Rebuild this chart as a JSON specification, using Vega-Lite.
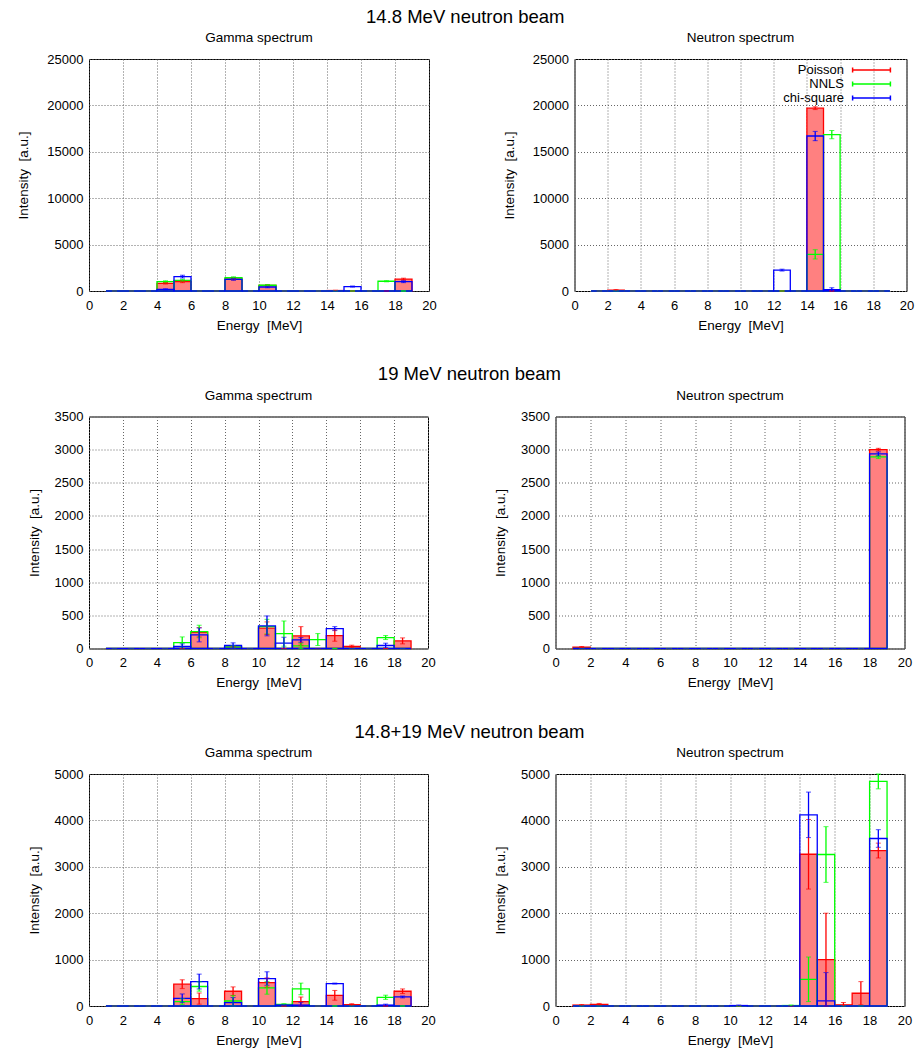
{
"$schema": "https://vega.github.io/schema/vega-lite/v6.json",
"padding": {"left": 16, "top": 7, "right": 2, "bottom": 4},
"background": "white",
"config": {
  "font": "Liberation Sans",
  "view": {"stroke": "black", "strokeWidth": 1},
  "axis": {"grid": true, "gridColor": "#666666", "gridDash": [1, 2], "gridWidth": 1, "ticks": false, "domain": false, "labelFontSize": 13, "titleFontSize": 13.5, "titleFontWeight": "normal", "labelColor": "black", "titleColor": "black", "labelOverlap": false, "labelFlush": false},
  "axisX": {"labelPadding": 8, "titlePadding": 6},
  "axisY": {"labelPadding": 6},
  "title": {"fontSize": 13.5, "fontWeight": "normal", "offset": 8.5, "color": "black"},
  "legend": {"labelFontSize": 13, "labelColor": "black"}
},
"datasets": {
"d": [
{"s":"g1","m":"Poisson","a":1,"b":2,"e":1.5,"v":0,"d":0},
{"s":"g1","m":"Poisson","a":2,"b":3,"e":2.5,"v":0,"d":0},
{"s":"g1","m":"Poisson","a":3,"b":4,"e":3.5,"v":0,"d":0},
{"s":"g1","m":"Poisson","a":4,"b":5,"e":4.5,"v":830,"d":80},
{"s":"g1","m":"Poisson","a":5,"b":6,"e":5.5,"v":1000,"d":100},
{"s":"g1","m":"Poisson","a":6,"b":7,"e":6.5,"v":0,"d":0},
{"s":"g1","m":"Poisson","a":7,"b":8,"e":7.5,"v":0,"d":0},
{"s":"g1","m":"Poisson","a":8,"b":9,"e":8.5,"v":1300,"d":100},
{"s":"g1","m":"Poisson","a":9,"b":10,"e":9.5,"v":0,"d":0},
{"s":"g1","m":"Poisson","a":10,"b":11,"e":10.5,"v":600,"d":80},
{"s":"g1","m":"Poisson","a":11,"b":12,"e":11.5,"v":0,"d":0},
{"s":"g1","m":"Poisson","a":12,"b":13,"e":12.5,"v":0,"d":0},
{"s":"g1","m":"Poisson","a":13,"b":14,"e":13.5,"v":0,"d":0},
{"s":"g1","m":"Poisson","a":14,"b":15,"e":14.5,"v":50,"d":30},
{"s":"g1","m":"Poisson","a":15,"b":16,"e":15.5,"v":0,"d":0},
{"s":"g1","m":"Poisson","a":16,"b":17,"e":16.5,"v":0,"d":0},
{"s":"g1","m":"Poisson","a":17,"b":18,"e":17.5,"v":0,"d":0},
{"s":"g1","m":"Poisson","a":18,"b":19,"e":18.5,"v":1280,"d":100},
{"s":"g1","m":"NNLS","a":1,"b":2,"e":1.5,"v":0,"d":0},
{"s":"g1","m":"NNLS","a":2,"b":3,"e":2.5,"v":0,"d":0},
{"s":"g1","m":"NNLS","a":3,"b":4,"e":3.5,"v":0,"d":0},
{"s":"g1","m":"NNLS","a":4,"b":5,"e":4.5,"v":1000,"d":100},
{"s":"g1","m":"NNLS","a":5,"b":6,"e":5.5,"v":1150,"d":100},
{"s":"g1","m":"NNLS","a":6,"b":7,"e":6.5,"v":0,"d":0},
{"s":"g1","m":"NNLS","a":7,"b":8,"e":7.5,"v":0,"d":0},
{"s":"g1","m":"NNLS","a":8,"b":9,"e":8.5,"v":1430,"d":100},
{"s":"g1","m":"NNLS","a":9,"b":10,"e":9.5,"v":0,"d":0},
{"s":"g1","m":"NNLS","a":10,"b":11,"e":10.5,"v":620,"d":80},
{"s":"g1","m":"NNLS","a":11,"b":12,"e":11.5,"v":0,"d":0},
{"s":"g1","m":"NNLS","a":12,"b":13,"e":12.5,"v":0,"d":0},
{"s":"g1","m":"NNLS","a":13,"b":14,"e":13.5,"v":0,"d":0},
{"s":"g1","m":"NNLS","a":14,"b":15,"e":14.5,"v":0,"d":0},
{"s":"g1","m":"NNLS","a":15,"b":16,"e":15.5,"v":0,"d":0},
{"s":"g1","m":"NNLS","a":16,"b":17,"e":16.5,"v":0,"d":0},
{"s":"g1","m":"NNLS","a":17,"b":18,"e":17.5,"v":1050,"d":60},
{"s":"g1","m":"NNLS","a":18,"b":19,"e":18.5,"v":0,"d":0},
{"s":"g1","m":"chi-square","a":1,"b":2,"e":1.5,"v":0,"d":0},
{"s":"g1","m":"chi-square","a":2,"b":3,"e":2.5,"v":0,"d":0},
{"s":"g1","m":"chi-square","a":3,"b":4,"e":3.5,"v":0,"d":0},
{"s":"g1","m":"chi-square","a":4,"b":5,"e":4.5,"v":180,"d":60},
{"s":"g1","m":"chi-square","a":5,"b":6,"e":5.5,"v":1550,"d":150},
{"s":"g1","m":"chi-square","a":6,"b":7,"e":6.5,"v":0,"d":0},
{"s":"g1","m":"chi-square","a":7,"b":8,"e":7.5,"v":0,"d":0},
{"s":"g1","m":"chi-square","a":8,"b":9,"e":8.5,"v":1260,"d":100},
{"s":"g1","m":"chi-square","a":9,"b":10,"e":9.5,"v":0,"d":0},
{"s":"g1","m":"chi-square","a":10,"b":11,"e":10.5,"v":430,"d":80},
{"s":"g1","m":"chi-square","a":11,"b":12,"e":11.5,"v":0,"d":0},
{"s":"g1","m":"chi-square","a":12,"b":13,"e":12.5,"v":0,"d":0},
{"s":"g1","m":"chi-square","a":13,"b":14,"e":13.5,"v":0,"d":0},
{"s":"g1","m":"chi-square","a":14,"b":15,"e":14.5,"v":0,"d":0},
{"s":"g1","m":"chi-square","a":15,"b":16,"e":15.5,"v":480,"d":60},
{"s":"g1","m":"chi-square","a":16,"b":17,"e":16.5,"v":0,"d":0},
{"s":"g1","m":"chi-square","a":17,"b":18,"e":17.5,"v":0,"d":0},
{"s":"g1","m":"chi-square","a":18,"b":19,"e":18.5,"v":1000,"d":100},
{"s":"n1","m":"Poisson","a":1,"b":2,"e":1.5,"v":0,"d":0},
{"s":"n1","m":"Poisson","a":2,"b":3,"e":2.5,"v":100,"d":50},
{"s":"n1","m":"Poisson","a":3,"b":4,"e":3.5,"v":0,"d":0},
{"s":"n1","m":"Poisson","a":4,"b":5,"e":4.5,"v":0,"d":0},
{"s":"n1","m":"Poisson","a":5,"b":6,"e":5.5,"v":0,"d":0},
{"s":"n1","m":"Poisson","a":6,"b":7,"e":6.5,"v":0,"d":0},
{"s":"n1","m":"Poisson","a":7,"b":8,"e":7.5,"v":0,"d":0},
{"s":"n1","m":"Poisson","a":8,"b":9,"e":8.5,"v":0,"d":0},
{"s":"n1","m":"Poisson","a":9,"b":10,"e":9.5,"v":0,"d":0},
{"s":"n1","m":"Poisson","a":10,"b":11,"e":10.5,"v":0,"d":0},
{"s":"n1","m":"Poisson","a":11,"b":12,"e":11.5,"v":0,"d":0},
{"s":"n1","m":"Poisson","a":12,"b":13,"e":12.5,"v":0,"d":0},
{"s":"n1","m":"Poisson","a":13,"b":14,"e":13.5,"v":0,"d":0},
{"s":"n1","m":"Poisson","a":14,"b":15,"e":14.5,"v":19700,"d":150},
{"s":"n1","m":"Poisson","a":15,"b":16,"e":15.5,"v":0,"d":0},
{"s":"n1","m":"Poisson","a":16,"b":17,"e":16.5,"v":0,"d":0},
{"s":"n1","m":"Poisson","a":17,"b":18,"e":17.5,"v":0,"d":0},
{"s":"n1","m":"Poisson","a":18,"b":19,"e":18.5,"v":0,"d":0},
{"s":"n1","m":"NNLS","a":1,"b":2,"e":1.5,"v":0,"d":0},
{"s":"n1","m":"NNLS","a":2,"b":3,"e":2.5,"v":0,"d":0},
{"s":"n1","m":"NNLS","a":3,"b":4,"e":3.5,"v":0,"d":0},
{"s":"n1","m":"NNLS","a":4,"b":5,"e":4.5,"v":0,"d":0},
{"s":"n1","m":"NNLS","a":5,"b":6,"e":5.5,"v":0,"d":0},
{"s":"n1","m":"NNLS","a":6,"b":7,"e":6.5,"v":0,"d":0},
{"s":"n1","m":"NNLS","a":7,"b":8,"e":7.5,"v":0,"d":0},
{"s":"n1","m":"NNLS","a":8,"b":9,"e":8.5,"v":0,"d":0},
{"s":"n1","m":"NNLS","a":9,"b":10,"e":9.5,"v":0,"d":0},
{"s":"n1","m":"NNLS","a":10,"b":11,"e":10.5,"v":0,"d":0},
{"s":"n1","m":"NNLS","a":11,"b":12,"e":11.5,"v":0,"d":0},
{"s":"n1","m":"NNLS","a":12,"b":13,"e":12.5,"v":0,"d":0},
{"s":"n1","m":"NNLS","a":13,"b":14,"e":13.5,"v":0,"d":0},
{"s":"n1","m":"NNLS","a":14,"b":15,"e":14.5,"v":3950,"d":500},
{"s":"n1","m":"NNLS","a":15,"b":16,"e":15.5,"v":16850,"d":450},
{"s":"n1","m":"NNLS","a":16,"b":17,"e":16.5,"v":0,"d":0},
{"s":"n1","m":"NNLS","a":17,"b":18,"e":17.5,"v":0,"d":0},
{"s":"n1","m":"NNLS","a":18,"b":19,"e":18.5,"v":0,"d":0},
{"s":"n1","m":"chi-square","a":1,"b":2,"e":1.5,"v":0,"d":0},
{"s":"n1","m":"chi-square","a":2,"b":3,"e":2.5,"v":0,"d":0},
{"s":"n1","m":"chi-square","a":3,"b":4,"e":3.5,"v":0,"d":0},
{"s":"n1","m":"chi-square","a":4,"b":5,"e":4.5,"v":0,"d":0},
{"s":"n1","m":"chi-square","a":5,"b":6,"e":5.5,"v":0,"d":0},
{"s":"n1","m":"chi-square","a":6,"b":7,"e":6.5,"v":0,"d":0},
{"s":"n1","m":"chi-square","a":7,"b":8,"e":7.5,"v":0,"d":0},
{"s":"n1","m":"chi-square","a":8,"b":9,"e":8.5,"v":0,"d":0},
{"s":"n1","m":"chi-square","a":9,"b":10,"e":9.5,"v":0,"d":0},
{"s":"n1","m":"chi-square","a":10,"b":11,"e":10.5,"v":0,"d":0},
{"s":"n1","m":"chi-square","a":11,"b":12,"e":11.5,"v":0,"d":0},
{"s":"n1","m":"chi-square","a":12,"b":13,"e":12.5,"v":2250,"d":100},
{"s":"n1","m":"chi-square","a":13,"b":14,"e":13.5,"v":0,"d":0},
{"s":"n1","m":"chi-square","a":14,"b":15,"e":14.5,"v":16700,"d":500},
{"s":"n1","m":"chi-square","a":15,"b":16,"e":15.5,"v":150,"d":200},
{"s":"n1","m":"chi-square","a":16,"b":17,"e":16.5,"v":0,"d":0},
{"s":"n1","m":"chi-square","a":17,"b":18,"e":17.5,"v":0,"d":0},
{"s":"n1","m":"chi-square","a":18,"b":19,"e":18.5,"v":0,"d":0},
{"s":"g2","m":"Poisson","a":1,"b":2,"e":1.5,"v":0,"d":0},
{"s":"g2","m":"Poisson","a":2,"b":3,"e":2.5,"v":0,"d":0},
{"s":"g2","m":"Poisson","a":3,"b":4,"e":3.5,"v":0,"d":0},
{"s":"g2","m":"Poisson","a":4,"b":5,"e":4.5,"v":0,"d":0},
{"s":"g2","m":"Poisson","a":5,"b":6,"e":5.5,"v":0,"d":0},
{"s":"g2","m":"Poisson","a":6,"b":7,"e":6.5,"v":245,"d":70},
{"s":"g2","m":"Poisson","a":7,"b":8,"e":7.5,"v":0,"d":0},
{"s":"g2","m":"Poisson","a":8,"b":9,"e":8.5,"v":20,"d":10},
{"s":"g2","m":"Poisson","a":9,"b":10,"e":9.5,"v":0,"d":0},
{"s":"g2","m":"Poisson","a":10,"b":11,"e":10.5,"v":306,"d":95},
{"s":"g2","m":"Poisson","a":11,"b":12,"e":11.5,"v":0,"d":0},
{"s":"g2","m":"Poisson","a":12,"b":13,"e":12.5,"v":190,"d":140},
{"s":"g2","m":"Poisson","a":13,"b":14,"e":13.5,"v":0,"d":0},
{"s":"g2","m":"Poisson","a":14,"b":15,"e":14.5,"v":195,"d":85},
{"s":"g2","m":"Poisson","a":15,"b":16,"e":15.5,"v":30,"d":20},
{"s":"g2","m":"Poisson","a":16,"b":17,"e":16.5,"v":0,"d":0},
{"s":"g2","m":"Poisson","a":17,"b":18,"e":17.5,"v":0,"d":0},
{"s":"g2","m":"Poisson","a":18,"b":19,"e":18.5,"v":115,"d":45},
{"s":"g2","m":"NNLS","a":1,"b":2,"e":1.5,"v":0,"d":0},
{"s":"g2","m":"NNLS","a":2,"b":3,"e":2.5,"v":0,"d":0},
{"s":"g2","m":"NNLS","a":3,"b":4,"e":3.5,"v":0,"d":0},
{"s":"g2","m":"NNLS","a":4,"b":5,"e":4.5,"v":0,"d":0},
{"s":"g2","m":"NNLS","a":5,"b":6,"e":5.5,"v":90,"d":85},
{"s":"g2","m":"NNLS","a":6,"b":7,"e":6.5,"v":256,"d":95},
{"s":"g2","m":"NNLS","a":7,"b":8,"e":7.5,"v":0,"d":0},
{"s":"g2","m":"NNLS","a":8,"b":9,"e":8.5,"v":25,"d":15},
{"s":"g2","m":"NNLS","a":9,"b":10,"e":9.5,"v":0,"d":0},
{"s":"g2","m":"NNLS","a":10,"b":11,"e":10.5,"v":330,"d":110},
{"s":"g2","m":"NNLS","a":11,"b":12,"e":11.5,"v":225,"d":190},
{"s":"g2","m":"NNLS","a":12,"b":13,"e":12.5,"v":40,"d":40},
{"s":"g2","m":"NNLS","a":13,"b":14,"e":13.5,"v":135,"d":90},
{"s":"g2","m":"NNLS","a":14,"b":15,"e":14.5,"v":0,"d":0},
{"s":"g2","m":"NNLS","a":15,"b":16,"e":15.5,"v":0,"d":0},
{"s":"g2","m":"NNLS","a":16,"b":17,"e":16.5,"v":0,"d":0},
{"s":"g2","m":"NNLS","a":17,"b":18,"e":17.5,"v":165,"d":30},
{"s":"g2","m":"NNLS","a":18,"b":19,"e":18.5,"v":0,"d":0},
{"s":"g2","m":"chi-square","a":1,"b":2,"e":1.5,"v":0,"d":0},
{"s":"g2","m":"chi-square","a":2,"b":3,"e":2.5,"v":0,"d":0},
{"s":"g2","m":"chi-square","a":3,"b":4,"e":3.5,"v":0,"d":0},
{"s":"g2","m":"chi-square","a":4,"b":5,"e":4.5,"v":0,"d":0},
{"s":"g2","m":"chi-square","a":5,"b":6,"e":5.5,"v":30,"d":40},
{"s":"g2","m":"chi-square","a":6,"b":7,"e":6.5,"v":205,"d":105},
{"s":"g2","m":"chi-square","a":7,"b":8,"e":7.5,"v":0,"d":0},
{"s":"g2","m":"chi-square","a":8,"b":9,"e":8.5,"v":45,"d":40},
{"s":"g2","m":"chi-square","a":9,"b":10,"e":9.5,"v":0,"d":0},
{"s":"g2","m":"chi-square","a":10,"b":11,"e":10.5,"v":341,"d":150},
{"s":"g2","m":"chi-square","a":11,"b":12,"e":11.5,"v":80,"d":90},
{"s":"g2","m":"chi-square","a":12,"b":13,"e":12.5,"v":130,"d":35},
{"s":"g2","m":"chi-square","a":13,"b":14,"e":13.5,"v":0,"d":0},
{"s":"g2","m":"chi-square","a":14,"b":15,"e":14.5,"v":300,"d":30},
{"s":"g2","m":"chi-square","a":15,"b":16,"e":15.5,"v":0,"d":0},
{"s":"g2","m":"chi-square","a":16,"b":17,"e":16.5,"v":0,"d":0},
{"s":"g2","m":"chi-square","a":17,"b":18,"e":17.5,"v":45,"d":35},
{"s":"g2","m":"chi-square","a":18,"b":19,"e":18.5,"v":0,"d":0},
{"s":"n2","m":"Poisson","a":1,"b":2,"e":1.5,"v":20,"d":10},
{"s":"n2","m":"Poisson","a":2,"b":3,"e":2.5,"v":0,"d":0},
{"s":"n2","m":"Poisson","a":3,"b":4,"e":3.5,"v":0,"d":0},
{"s":"n2","m":"Poisson","a":4,"b":5,"e":4.5,"v":0,"d":0},
{"s":"n2","m":"Poisson","a":5,"b":6,"e":5.5,"v":0,"d":0},
{"s":"n2","m":"Poisson","a":6,"b":7,"e":6.5,"v":0,"d":0},
{"s":"n2","m":"Poisson","a":7,"b":8,"e":7.5,"v":0,"d":0},
{"s":"n2","m":"Poisson","a":8,"b":9,"e":8.5,"v":0,"d":0},
{"s":"n2","m":"Poisson","a":9,"b":10,"e":9.5,"v":0,"d":0},
{"s":"n2","m":"Poisson","a":10,"b":11,"e":10.5,"v":0,"d":0},
{"s":"n2","m":"Poisson","a":11,"b":12,"e":11.5,"v":0,"d":0},
{"s":"n2","m":"Poisson","a":12,"b":13,"e":12.5,"v":0,"d":0},
{"s":"n2","m":"Poisson","a":13,"b":14,"e":13.5,"v":0,"d":0},
{"s":"n2","m":"Poisson","a":14,"b":15,"e":14.5,"v":0,"d":0},
{"s":"n2","m":"Poisson","a":15,"b":16,"e":15.5,"v":0,"d":0},
{"s":"n2","m":"Poisson","a":16,"b":17,"e":16.5,"v":0,"d":0},
{"s":"n2","m":"Poisson","a":17,"b":18,"e":17.5,"v":0,"d":0},
{"s":"n2","m":"Poisson","a":18,"b":19,"e":18.5,"v":3000,"d":20},
{"s":"n2","m":"NNLS","a":1,"b":2,"e":1.5,"v":0,"d":0},
{"s":"n2","m":"NNLS","a":2,"b":3,"e":2.5,"v":0,"d":0},
{"s":"n2","m":"NNLS","a":3,"b":4,"e":3.5,"v":0,"d":0},
{"s":"n2","m":"NNLS","a":4,"b":5,"e":4.5,"v":0,"d":0},
{"s":"n2","m":"NNLS","a":5,"b":6,"e":5.5,"v":0,"d":0},
{"s":"n2","m":"NNLS","a":6,"b":7,"e":6.5,"v":0,"d":0},
{"s":"n2","m":"NNLS","a":7,"b":8,"e":7.5,"v":0,"d":0},
{"s":"n2","m":"NNLS","a":8,"b":9,"e":8.5,"v":0,"d":0},
{"s":"n2","m":"NNLS","a":9,"b":10,"e":9.5,"v":0,"d":0},
{"s":"n2","m":"NNLS","a":10,"b":11,"e":10.5,"v":0,"d":0},
{"s":"n2","m":"NNLS","a":11,"b":12,"e":11.5,"v":0,"d":0},
{"s":"n2","m":"NNLS","a":12,"b":13,"e":12.5,"v":0,"d":0},
{"s":"n2","m":"NNLS","a":13,"b":14,"e":13.5,"v":0,"d":0},
{"s":"n2","m":"NNLS","a":14,"b":15,"e":14.5,"v":0,"d":0},
{"s":"n2","m":"NNLS","a":15,"b":16,"e":15.5,"v":0,"d":0},
{"s":"n2","m":"NNLS","a":16,"b":17,"e":16.5,"v":0,"d":0},
{"s":"n2","m":"NNLS","a":17,"b":18,"e":17.5,"v":0,"d":0},
{"s":"n2","m":"NNLS","a":18,"b":19,"e":18.5,"v":2890,"d":25},
{"s":"n2","m":"chi-square","a":1,"b":2,"e":1.5,"v":0,"d":0},
{"s":"n2","m":"chi-square","a":2,"b":3,"e":2.5,"v":0,"d":0},
{"s":"n2","m":"chi-square","a":3,"b":4,"e":3.5,"v":0,"d":0},
{"s":"n2","m":"chi-square","a":4,"b":5,"e":4.5,"v":0,"d":0},
{"s":"n2","m":"chi-square","a":5,"b":6,"e":5.5,"v":0,"d":0},
{"s":"n2","m":"chi-square","a":6,"b":7,"e":6.5,"v":0,"d":0},
{"s":"n2","m":"chi-square","a":7,"b":8,"e":7.5,"v":0,"d":0},
{"s":"n2","m":"chi-square","a":8,"b":9,"e":8.5,"v":0,"d":0},
{"s":"n2","m":"chi-square","a":9,"b":10,"e":9.5,"v":0,"d":0},
{"s":"n2","m":"chi-square","a":10,"b":11,"e":10.5,"v":0,"d":0},
{"s":"n2","m":"chi-square","a":11,"b":12,"e":11.5,"v":0,"d":0},
{"s":"n2","m":"chi-square","a":12,"b":13,"e":12.5,"v":0,"d":0},
{"s":"n2","m":"chi-square","a":13,"b":14,"e":13.5,"v":0,"d":0},
{"s":"n2","m":"chi-square","a":14,"b":15,"e":14.5,"v":0,"d":0},
{"s":"n2","m":"chi-square","a":15,"b":16,"e":15.5,"v":0,"d":0},
{"s":"n2","m":"chi-square","a":16,"b":17,"e":16.5,"v":0,"d":0},
{"s":"n2","m":"chi-square","a":17,"b":18,"e":17.5,"v":0,"d":0},
{"s":"n2","m":"chi-square","a":18,"b":19,"e":18.5,"v":2935,"d":30},
{"s":"g3","m":"Poisson","a":1,"b":2,"e":1.5,"v":0,"d":0},
{"s":"g3","m":"Poisson","a":2,"b":3,"e":2.5,"v":0,"d":0},
{"s":"g3","m":"Poisson","a":3,"b":4,"e":3.5,"v":0,"d":0},
{"s":"g3","m":"Poisson","a":4,"b":5,"e":4.5,"v":0,"d":0},
{"s":"g3","m":"Poisson","a":5,"b":6,"e":5.5,"v":470,"d":95},
{"s":"g3","m":"Poisson","a":6,"b":7,"e":6.5,"v":160,"d":120},
{"s":"g3","m":"Poisson","a":7,"b":8,"e":7.5,"v":0,"d":0},
{"s":"g3","m":"Poisson","a":8,"b":9,"e":8.5,"v":318,"d":94},
{"s":"g3","m":"Poisson","a":9,"b":10,"e":9.5,"v":0,"d":0},
{"s":"g3","m":"Poisson","a":10,"b":11,"e":10.5,"v":505,"d":100},
{"s":"g3","m":"Poisson","a":11,"b":12,"e":11.5,"v":0,"d":0},
{"s":"g3","m":"Poisson","a":12,"b":13,"e":12.5,"v":94,"d":100},
{"s":"g3","m":"Poisson","a":13,"b":14,"e":13.5,"v":0,"d":0},
{"s":"g3","m":"Poisson","a":14,"b":15,"e":14.5,"v":230,"d":105},
{"s":"g3","m":"Poisson","a":15,"b":16,"e":15.5,"v":30,"d":20},
{"s":"g3","m":"Poisson","a":16,"b":17,"e":16.5,"v":0,"d":0},
{"s":"g3","m":"Poisson","a":17,"b":18,"e":17.5,"v":0,"d":0},
{"s":"g3","m":"Poisson","a":18,"b":19,"e":18.5,"v":318,"d":50},
{"s":"g3","m":"NNLS","a":1,"b":2,"e":1.5,"v":0,"d":0},
{"s":"g3","m":"NNLS","a":2,"b":3,"e":2.5,"v":0,"d":0},
{"s":"g3","m":"NNLS","a":3,"b":4,"e":3.5,"v":0,"d":0},
{"s":"g3","m":"NNLS","a":4,"b":5,"e":4.5,"v":0,"d":0},
{"s":"g3","m":"NNLS","a":5,"b":6,"e":5.5,"v":95,"d":60},
{"s":"g3","m":"NNLS","a":6,"b":7,"e":6.5,"v":420,"d":100},
{"s":"g3","m":"NNLS","a":7,"b":8,"e":7.5,"v":0,"d":0},
{"s":"g3","m":"NNLS","a":8,"b":9,"e":8.5,"v":108,"d":120},
{"s":"g3","m":"NNLS","a":9,"b":10,"e":9.5,"v":0,"d":0},
{"s":"g3","m":"NNLS","a":10,"b":11,"e":10.5,"v":390,"d":135},
{"s":"g3","m":"NNLS","a":11,"b":12,"e":11.5,"v":35,"d":15},
{"s":"g3","m":"NNLS","a":12,"b":13,"e":12.5,"v":368,"d":125},
{"s":"g3","m":"NNLS","a":13,"b":14,"e":13.5,"v":0,"d":0},
{"s":"g3","m":"NNLS","a":14,"b":15,"e":14.5,"v":0,"d":0},
{"s":"g3","m":"NNLS","a":15,"b":16,"e":15.5,"v":0,"d":0},
{"s":"g3","m":"NNLS","a":16,"b":17,"e":16.5,"v":0,"d":0},
{"s":"g3","m":"NNLS","a":17,"b":18,"e":17.5,"v":188,"d":45},
{"s":"g3","m":"NNLS","a":18,"b":19,"e":18.5,"v":0,"d":0},
{"s":"g3","m":"chi-square","a":1,"b":2,"e":1.5,"v":0,"d":0},
{"s":"g3","m":"chi-square","a":2,"b":3,"e":2.5,"v":0,"d":0},
{"s":"g3","m":"chi-square","a":3,"b":4,"e":3.5,"v":0,"d":0},
{"s":"g3","m":"chi-square","a":4,"b":5,"e":4.5,"v":0,"d":0},
{"s":"g3","m":"chi-square","a":5,"b":6,"e":5.5,"v":166,"d":94},
{"s":"g3","m":"chi-square","a":6,"b":7,"e":6.5,"v":527,"d":160},
{"s":"g3","m":"chi-square","a":7,"b":8,"e":7.5,"v":0,"d":0},
{"s":"g3","m":"chi-square","a":8,"b":9,"e":8.5,"v":72,"d":110},
{"s":"g3","m":"chi-square","a":9,"b":10,"e":9.5,"v":0,"d":0},
{"s":"g3","m":"chi-square","a":10,"b":11,"e":10.5,"v":592,"d":145},
{"s":"g3","m":"chi-square","a":11,"b":12,"e":11.5,"v":20,"d":10},
{"s":"g3","m":"chi-square","a":12,"b":13,"e":12.5,"v":20,"d":60},
{"s":"g3","m":"chi-square","a":13,"b":14,"e":13.5,"v":0,"d":0},
{"s":"g3","m":"chi-square","a":14,"b":15,"e":14.5,"v":484,"d":10},
{"s":"g3","m":"chi-square","a":15,"b":16,"e":15.5,"v":0,"d":0},
{"s":"g3","m":"chi-square","a":16,"b":17,"e":16.5,"v":0,"d":0},
{"s":"g3","m":"chi-square","a":17,"b":18,"e":17.5,"v":20,"d":20},
{"s":"g3","m":"chi-square","a":18,"b":19,"e":18.5,"v":195,"d":20},
{"s":"n3","m":"Poisson","a":1,"b":2,"e":1.5,"v":20,"d":10},
{"s":"n3","m":"Poisson","a":2,"b":3,"e":2.5,"v":35,"d":20},
{"s":"n3","m":"Poisson","a":3,"b":4,"e":3.5,"v":0,"d":0},
{"s":"n3","m":"Poisson","a":4,"b":5,"e":4.5,"v":0,"d":0},
{"s":"n3","m":"Poisson","a":5,"b":6,"e":5.5,"v":0,"d":0},
{"s":"n3","m":"Poisson","a":6,"b":7,"e":6.5,"v":0,"d":0},
{"s":"n3","m":"Poisson","a":7,"b":8,"e":7.5,"v":0,"d":0},
{"s":"n3","m":"Poisson","a":8,"b":9,"e":8.5,"v":0,"d":0},
{"s":"n3","m":"Poisson","a":9,"b":10,"e":9.5,"v":0,"d":0},
{"s":"n3","m":"Poisson","a":10,"b":11,"e":10.5,"v":0,"d":0},
{"s":"n3","m":"Poisson","a":11,"b":12,"e":11.5,"v":0,"d":0},
{"s":"n3","m":"Poisson","a":12,"b":13,"e":12.5,"v":0,"d":0},
{"s":"n3","m":"Poisson","a":13,"b":14,"e":13.5,"v":0,"d":0},
{"s":"n3","m":"Poisson","a":14,"b":15,"e":14.5,"v":3270,"d":750},
{"s":"n3","m":"Poisson","a":15,"b":16,"e":15.5,"v":1000,"d":1000},
{"s":"n3","m":"Poisson","a":16,"b":17,"e":16.5,"v":25,"d":50},
{"s":"n3","m":"Poisson","a":17,"b":18,"e":17.5,"v":275,"d":250},
{"s":"n3","m":"Poisson","a":18,"b":19,"e":18.5,"v":3350,"d":160},
{"s":"n3","m":"NNLS","a":1,"b":2,"e":1.5,"v":0,"d":0},
{"s":"n3","m":"NNLS","a":2,"b":3,"e":2.5,"v":0,"d":0},
{"s":"n3","m":"NNLS","a":3,"b":4,"e":3.5,"v":0,"d":0},
{"s":"n3","m":"NNLS","a":4,"b":5,"e":4.5,"v":0,"d":0},
{"s":"n3","m":"NNLS","a":5,"b":6,"e":5.5,"v":0,"d":0},
{"s":"n3","m":"NNLS","a":6,"b":7,"e":6.5,"v":0,"d":0},
{"s":"n3","m":"NNLS","a":7,"b":8,"e":7.5,"v":0,"d":0},
{"s":"n3","m":"NNLS","a":8,"b":9,"e":8.5,"v":0,"d":0},
{"s":"n3","m":"NNLS","a":9,"b":10,"e":9.5,"v":0,"d":0},
{"s":"n3","m":"NNLS","a":10,"b":11,"e":10.5,"v":0,"d":0},
{"s":"n3","m":"NNLS","a":11,"b":12,"e":11.5,"v":0,"d":0},
{"s":"n3","m":"NNLS","a":12,"b":13,"e":12.5,"v":0,"d":0},
{"s":"n3","m":"NNLS","a":13,"b":14,"e":13.5,"v":10,"d":10},
{"s":"n3","m":"NNLS","a":14,"b":15,"e":14.5,"v":575,"d":480},
{"s":"n3","m":"NNLS","a":15,"b":16,"e":15.5,"v":3265,"d":600},
{"s":"n3","m":"NNLS","a":16,"b":17,"e":16.5,"v":0,"d":0},
{"s":"n3","m":"NNLS","a":17,"b":18,"e":17.5,"v":0,"d":0},
{"s":"n3","m":"NNLS","a":18,"b":19,"e":18.5,"v":4840,"d":160},
{"s":"n3","m":"chi-square","a":1,"b":2,"e":1.5,"v":0,"d":0},
{"s":"n3","m":"chi-square","a":2,"b":3,"e":2.5,"v":0,"d":0},
{"s":"n3","m":"chi-square","a":3,"b":4,"e":3.5,"v":0,"d":0},
{"s":"n3","m":"chi-square","a":4,"b":5,"e":4.5,"v":0,"d":0},
{"s":"n3","m":"chi-square","a":5,"b":6,"e":5.5,"v":0,"d":0},
{"s":"n3","m":"chi-square","a":6,"b":7,"e":6.5,"v":0,"d":0},
{"s":"n3","m":"chi-square","a":7,"b":8,"e":7.5,"v":0,"d":0},
{"s":"n3","m":"chi-square","a":8,"b":9,"e":8.5,"v":0,"d":0},
{"s":"n3","m":"chi-square","a":9,"b":10,"e":9.5,"v":0,"d":0},
{"s":"n3","m":"chi-square","a":10,"b":11,"e":10.5,"v":10,"d":10},
{"s":"n3","m":"chi-square","a":11,"b":12,"e":11.5,"v":0,"d":0},
{"s":"n3","m":"chi-square","a":12,"b":13,"e":12.5,"v":0,"d":0},
{"s":"n3","m":"chi-square","a":13,"b":14,"e":13.5,"v":0,"d":0},
{"s":"n3","m":"chi-square","a":14,"b":15,"e":14.5,"v":4120,"d":490},
{"s":"n3","m":"chi-square","a":15,"b":16,"e":15.5,"v":110,"d":610},
{"s":"n3","m":"chi-square","a":16,"b":17,"e":16.5,"v":0,"d":0},
{"s":"n3","m":"chi-square","a":17,"b":18,"e":17.5,"v":0,"d":0},
{"s":"n3","m":"chi-square","a":18,"b":19,"e":18.5,"v":3610,"d":190}
]
},
"data": {"name": "d"},
"spacing": 32.5,
"resolve": {"scale": {"stroke": "independent", "fill": "independent", "color": "independent"}, "legend": {"stroke": "independent", "fill": "independent", "color": "independent"}},
"vconcat": [
{
 "title": {"text": "14.8 MeV neutron beam", "fontSize": 18.5, "anchor": "middle", "offset": 4.5},
 "spacing": 64.5,
 "resolve": {"scale": {"stroke": "independent", "fill": "independent", "color": "independent"}, "legend": {"stroke": "independent", "fill": "independent", "color": "independent"}},
 "hconcat": [
  {"width": 340, "height": 232, "title": "Gamma spectrum",
   "transform": [{"filter": {"field": "s", "equal": "g1"}}],
   "layer": [
    {"mark": {"type": "bar", "strokeWidth": 1.3},
     "encoding": {
      "x": {"field": "a", "type": "quantitative", "scale": {"domain": [0, 20], "nice": false}, "axis": {"values": [0,2,4,6,8,10,12,14,16,18,20]}, "title": "Energy\u00a0\u00a0[MeV]"},
      "x2": {"field": "b"},
      "y": {"field": "v", "type": "quantitative", "stack": null, "scale": {"domain": [0, 25000], "nice": false, "clamp": true}, "axis": {"values": [0,5000,10000,15000,20000,25000], "format": "d", "titlePadding": 16}, "title": "Intensity\u00a0\u00a0[a.u.]"},
      "y2": {"datum": 0},
      "stroke": {"field": "m", "type": "nominal", "scale": {"domain": ["Poisson","NNLS","chi-square"], "range": ["#ff0000","#00ff00","#0000ff"]}, "legend": null},
      "fill": {"field": "m", "type": "nominal", "scale": {"domain": ["Poisson","NNLS","chi-square"], "range": ["#ff8080","transparent","transparent"]}, "legend": null}
     }},
    {"mark": {"type": "errorbar", "ticks": {"size": 5}, "rule": {"strokeWidth": 1.3}},
     "encoding": {
      "x": {"field": "e", "type": "quantitative", "scale": {"domain": [0, 20], "nice": false}, "axis": {"values": [0,2,4,6,8,10,12,14,16,18,20]}, "title": "Energy\u00a0\u00a0[MeV]"},
      "y": {"field": "v", "type": "quantitative", "scale": {"domain": [0, 25000], "nice": false, "clamp": true}, "axis": {"values": [0,5000,10000,15000,20000,25000], "format": "d", "titlePadding": 16}, "title": "Intensity\u00a0\u00a0[a.u.]"},
      "yError": {"field": "d"},
      "color": {"field": "m", "type": "nominal", "scale": {"domain": ["Poisson","NNLS","chi-square"], "range": ["#ff0000","#00ff00","#0000ff"]}, "legend": null}
     }}
   ]},
  {"width": 332, "height": 232, "title": "Neutron spectrum",
   "transform": [{"filter": {"field": "s", "equal": "n1"}}],
   "layer": [
    {"mark": {"type": "bar", "strokeWidth": 1.3},
     "encoding": {
      "x": {"field": "a", "type": "quantitative", "scale": {"domain": [0, 20], "nice": false}, "axis": {"values": [0,2,4,6,8,10,12,14,16,18,20]}, "title": "Energy\u00a0\u00a0[MeV]"},
      "x2": {"field": "b"},
      "y": {"field": "v", "type": "quantitative", "stack": null, "scale": {"domain": [0, 25000], "nice": false, "clamp": true}, "axis": {"values": [0,5000,10000,15000,20000,25000], "format": "d", "titlePadding": 16}, "title": "Intensity\u00a0\u00a0[a.u.]"},
      "y2": {"datum": 0},
      "stroke": {"field": "m", "type": "nominal", "scale": {"domain": ["Poisson","NNLS","chi-square"], "range": ["#ff0000","#00ff00","#0000ff"]},
        "legend": {"orient": "none", "legendX": 290, "legendY": 4, "title": null, "symbolType": "M-3.15,-0.4L-3.15,0.4M-3.15,0L3.15,0M3.15,-0.4L3.15,0.4", "symbolSize": 144, "symbolStrokeWidth": 1.5, "labelAlign": "right", "labelOffset": -34.5, "labelFontSize": 13, "rowPadding": 0, "padding": 0}},
      "fill": {"field": "m", "type": "nominal", "scale": {"domain": ["Poisson","NNLS","chi-square"], "range": ["#ff8080","transparent","transparent"]},
        "legend": {"orient": "none", "legendX": 290, "legendY": 4, "title": null, "symbolType": "M-3.15,-0.4L-3.15,0.4M-3.15,0L3.15,0M3.15,-0.4L3.15,0.4", "symbolSize": 144, "symbolStrokeWidth": 1.5, "labelAlign": "right", "labelOffset": -34.5, "labelFontSize": 13, "rowPadding": 0, "padding": 0}}
     }},
    {"mark": {"type": "errorbar", "ticks": {"size": 5}, "rule": {"strokeWidth": 1.3}},
     "encoding": {
      "x": {"field": "e", "type": "quantitative", "scale": {"domain": [0, 20], "nice": false}, "axis": {"values": [0,2,4,6,8,10,12,14,16,18,20]}, "title": "Energy\u00a0\u00a0[MeV]"},
      "y": {"field": "v", "type": "quantitative", "scale": {"domain": [0, 25000], "nice": false, "clamp": true}, "axis": {"values": [0,5000,10000,15000,20000,25000], "format": "d", "titlePadding": 16}, "title": "Intensity\u00a0\u00a0[a.u.]"},
      "yError": {"field": "d"},
      "color": {"field": "m", "type": "nominal", "scale": {"domain": ["Poisson","NNLS","chi-square"], "range": ["#ff0000","#00ff00","#0000ff"]},
        "legend": {"orient": "none", "legendX": 290, "legendY": 4, "title": null, "symbolType": "M-3.15,-0.4L-3.15,0.4M-3.15,0L3.15,0M3.15,-0.4L3.15,0.4", "symbolSize": 144, "symbolStrokeWidth": 1.5, "labelAlign": "right", "labelOffset": -34.5, "labelFontSize": 13, "rowPadding": 0, "padding": 0}}
     }}
   ]}
 ]
},
{
 "title": {"text": "19 MeV neutron beam", "fontSize": 18.5, "anchor": "middle", "offset": 4.5},
 "spacing": 56.5,
 "resolve": {"scale": {"stroke": "independent", "fill": "independent", "color": "independent"}, "legend": {"stroke": "independent", "fill": "independent", "color": "independent"}},
 "hconcat": [
  {"width": 339, "height": 232, "title": "Gamma spectrum",
   "transform": [{"filter": {"field": "s", "equal": "g2"}}],
   "layer": [
    {"mark": {"type": "bar", "strokeWidth": 1.3},
     "encoding": {
      "x": {"field": "a", "type": "quantitative", "scale": {"domain": [0, 20], "nice": false}, "axis": {"values": [0,2,4,6,8,10,12,14,16,18,20]}, "title": "Energy\u00a0\u00a0[MeV]"},
      "x2": {"field": "b"},
      "y": {"field": "v", "type": "quantitative", "stack": null, "scale": {"domain": [0, 3500], "nice": false, "clamp": true}, "axis": {"values": [0,500,1000,1500,2000,2500,3000,3500], "format": "d", "titlePadding": 13}, "title": "Intensity\u00a0\u00a0[a.u.]"},
      "y2": {"datum": 0},
      "stroke": {"field": "m", "type": "nominal", "scale": {"domain": ["Poisson","NNLS","chi-square"], "range": ["#ff0000","#00ff00","#0000ff"]}, "legend": null},
      "fill": {"field": "m", "type": "nominal", "scale": {"domain": ["Poisson","NNLS","chi-square"], "range": ["#ff8080","transparent","transparent"]}, "legend": null}
     }},
    {"mark": {"type": "errorbar", "ticks": {"size": 5}, "rule": {"strokeWidth": 1.3}},
     "encoding": {
      "x": {"field": "e", "type": "quantitative", "scale": {"domain": [0, 20], "nice": false}, "axis": {"values": [0,2,4,6,8,10,12,14,16,18,20]}, "title": "Energy\u00a0\u00a0[MeV]"},
      "y": {"field": "v", "type": "quantitative", "scale": {"domain": [0, 3500], "nice": false, "clamp": true}, "axis": {"values": [0,500,1000,1500,2000,2500,3000,3500], "format": "d", "titlePadding": 13}, "title": "Intensity\u00a0\u00a0[a.u.]"},
      "yError": {"field": "d"},
      "color": {"field": "m", "type": "nominal", "scale": {"domain": ["Poisson","NNLS","chi-square"], "range": ["#ff0000","#00ff00","#0000ff"]}, "legend": null}
     }}
   ]},
  {"width": 349, "height": 232, "title": "Neutron spectrum",
   "transform": [{"filter": {"field": "s", "equal": "n2"}}],
   "layer": [
    {"mark": {"type": "bar", "strokeWidth": 1.3},
     "encoding": {
      "x": {"field": "a", "type": "quantitative", "scale": {"domain": [0, 20], "nice": false}, "axis": {"values": [0,2,4,6,8,10,12,14,16,18,20]}, "title": "Energy\u00a0\u00a0[MeV]"},
      "x2": {"field": "b"},
      "y": {"field": "v", "type": "quantitative", "stack": null, "scale": {"domain": [0, 3500], "nice": false, "clamp": true}, "axis": {"values": [0,500,1000,1500,2000,2500,3000,3500], "format": "d", "titlePadding": 13}, "title": "Intensity\u00a0\u00a0[a.u.]"},
      "y2": {"datum": 0},
      "stroke": {"field": "m", "type": "nominal", "scale": {"domain": ["Poisson","NNLS","chi-square"], "range": ["#ff0000","#00ff00","#0000ff"]}, "legend": null},
      "fill": {"field": "m", "type": "nominal", "scale": {"domain": ["Poisson","NNLS","chi-square"], "range": ["#ff8080","transparent","transparent"]}, "legend": null}
     }},
    {"mark": {"type": "errorbar", "ticks": {"size": 5}, "rule": {"strokeWidth": 1.3}},
     "encoding": {
      "x": {"field": "e", "type": "quantitative", "scale": {"domain": [0, 20], "nice": false}, "axis": {"values": [0,2,4,6,8,10,12,14,16,18,20]}, "title": "Energy\u00a0\u00a0[MeV]"},
      "y": {"field": "v", "type": "quantitative", "scale": {"domain": [0, 3500], "nice": false, "clamp": true}, "axis": {"values": [0,500,1000,1500,2000,2500,3000,3500], "format": "d", "titlePadding": 13}, "title": "Intensity\u00a0\u00a0[a.u.]"},
      "yError": {"field": "d"},
      "color": {"field": "m", "type": "nominal", "scale": {"domain": ["Poisson","NNLS","chi-square"], "range": ["#ff0000","#00ff00","#0000ff"]}, "legend": null}
     }}
   ]}
 ]
},
{
 "title": {"text": "14.8+19 MeV neutron beam", "fontSize": 18.5, "anchor": "middle", "offset": 4.5},
 "spacing": 56.5,
 "resolve": {"scale": {"stroke": "independent", "fill": "independent", "color": "independent"}, "legend": {"stroke": "independent", "fill": "independent", "color": "independent"}},
 "hconcat": [
  {"width": 339, "height": 232, "title": "Gamma spectrum",
   "transform": [{"filter": {"field": "s", "equal": "g3"}}],
   "layer": [
    {"mark": {"type": "bar", "strokeWidth": 1.3},
     "encoding": {
      "x": {"field": "a", "type": "quantitative", "scale": {"domain": [0, 20], "nice": false}, "axis": {"values": [0,2,4,6,8,10,12,14,16,18,20]}, "title": "Energy\u00a0\u00a0[MeV]"},
      "x2": {"field": "b"},
      "y": {"field": "v", "type": "quantitative", "stack": null, "scale": {"domain": [0, 5000], "nice": false, "clamp": true}, "axis": {"values": [0,1000,2000,3000,4000,5000], "format": "d", "titlePadding": 13}, "title": "Intensity\u00a0\u00a0[a.u.]"},
      "y2": {"datum": 0},
      "stroke": {"field": "m", "type": "nominal", "scale": {"domain": ["Poisson","NNLS","chi-square"], "range": ["#ff0000","#00ff00","#0000ff"]}, "legend": null},
      "fill": {"field": "m", "type": "nominal", "scale": {"domain": ["Poisson","NNLS","chi-square"], "range": ["#ff8080","transparent","transparent"]}, "legend": null}
     }},
    {"mark": {"type": "errorbar", "ticks": {"size": 5}, "rule": {"strokeWidth": 1.3}},
     "encoding": {
      "x": {"field": "e", "type": "quantitative", "scale": {"domain": [0, 20], "nice": false}, "axis": {"values": [0,2,4,6,8,10,12,14,16,18,20]}, "title": "Energy\u00a0\u00a0[MeV]"},
      "y": {"field": "v", "type": "quantitative", "scale": {"domain": [0, 5000], "nice": false, "clamp": true}, "axis": {"values": [0,1000,2000,3000,4000,5000], "format": "d", "titlePadding": 13}, "title": "Intensity\u00a0\u00a0[a.u.]"},
      "yError": {"field": "d"},
      "color": {"field": "m", "type": "nominal", "scale": {"domain": ["Poisson","NNLS","chi-square"], "range": ["#ff0000","#00ff00","#0000ff"]}, "legend": null}
     }}
   ]},
  {"width": 349, "height": 232, "title": "Neutron spectrum",
   "transform": [{"filter": {"field": "s", "equal": "n3"}}],
   "layer": [
    {"mark": {"type": "bar", "strokeWidth": 1.3},
     "encoding": {
      "x": {"field": "a", "type": "quantitative", "scale": {"domain": [0, 20], "nice": false}, "axis": {"values": [0,2,4,6,8,10,12,14,16,18,20]}, "title": "Energy\u00a0\u00a0[MeV]"},
      "x2": {"field": "b"},
      "y": {"field": "v", "type": "quantitative", "stack": null, "scale": {"domain": [0, 5000], "nice": false, "clamp": true}, "axis": {"values": [0,1000,2000,3000,4000,5000], "format": "d", "titlePadding": 13}, "title": "Intensity\u00a0\u00a0[a.u.]"},
      "y2": {"datum": 0},
      "stroke": {"field": "m", "type": "nominal", "scale": {"domain": ["Poisson","NNLS","chi-square"], "range": ["#ff0000","#00ff00","#0000ff"]}, "legend": null},
      "fill": {"field": "m", "type": "nominal", "scale": {"domain": ["Poisson","NNLS","chi-square"], "range": ["#ff8080","transparent","transparent"]}, "legend": null}
     }},
    {"mark": {"type": "errorbar", "ticks": {"size": 5}, "rule": {"strokeWidth": 1.3}},
     "encoding": {
      "x": {"field": "e", "type": "quantitative", "scale": {"domain": [0, 20], "nice": false}, "axis": {"values": [0,2,4,6,8,10,12,14,16,18,20]}, "title": "Energy\u00a0\u00a0[MeV]"},
      "y": {"field": "v", "type": "quantitative", "scale": {"domain": [0, 5000], "nice": false, "clamp": true}, "axis": {"values": [0,1000,2000,3000,4000,5000], "format": "d", "titlePadding": 13}, "title": "Intensity\u00a0\u00a0[a.u.]"},
      "yError": {"field": "d"},
      "color": {"field": "m", "type": "nominal", "scale": {"domain": ["Poisson","NNLS","chi-square"], "range": ["#ff0000","#00ff00","#0000ff"]}, "legend": null}
     }}
   ]}
 ]
}
]
}
